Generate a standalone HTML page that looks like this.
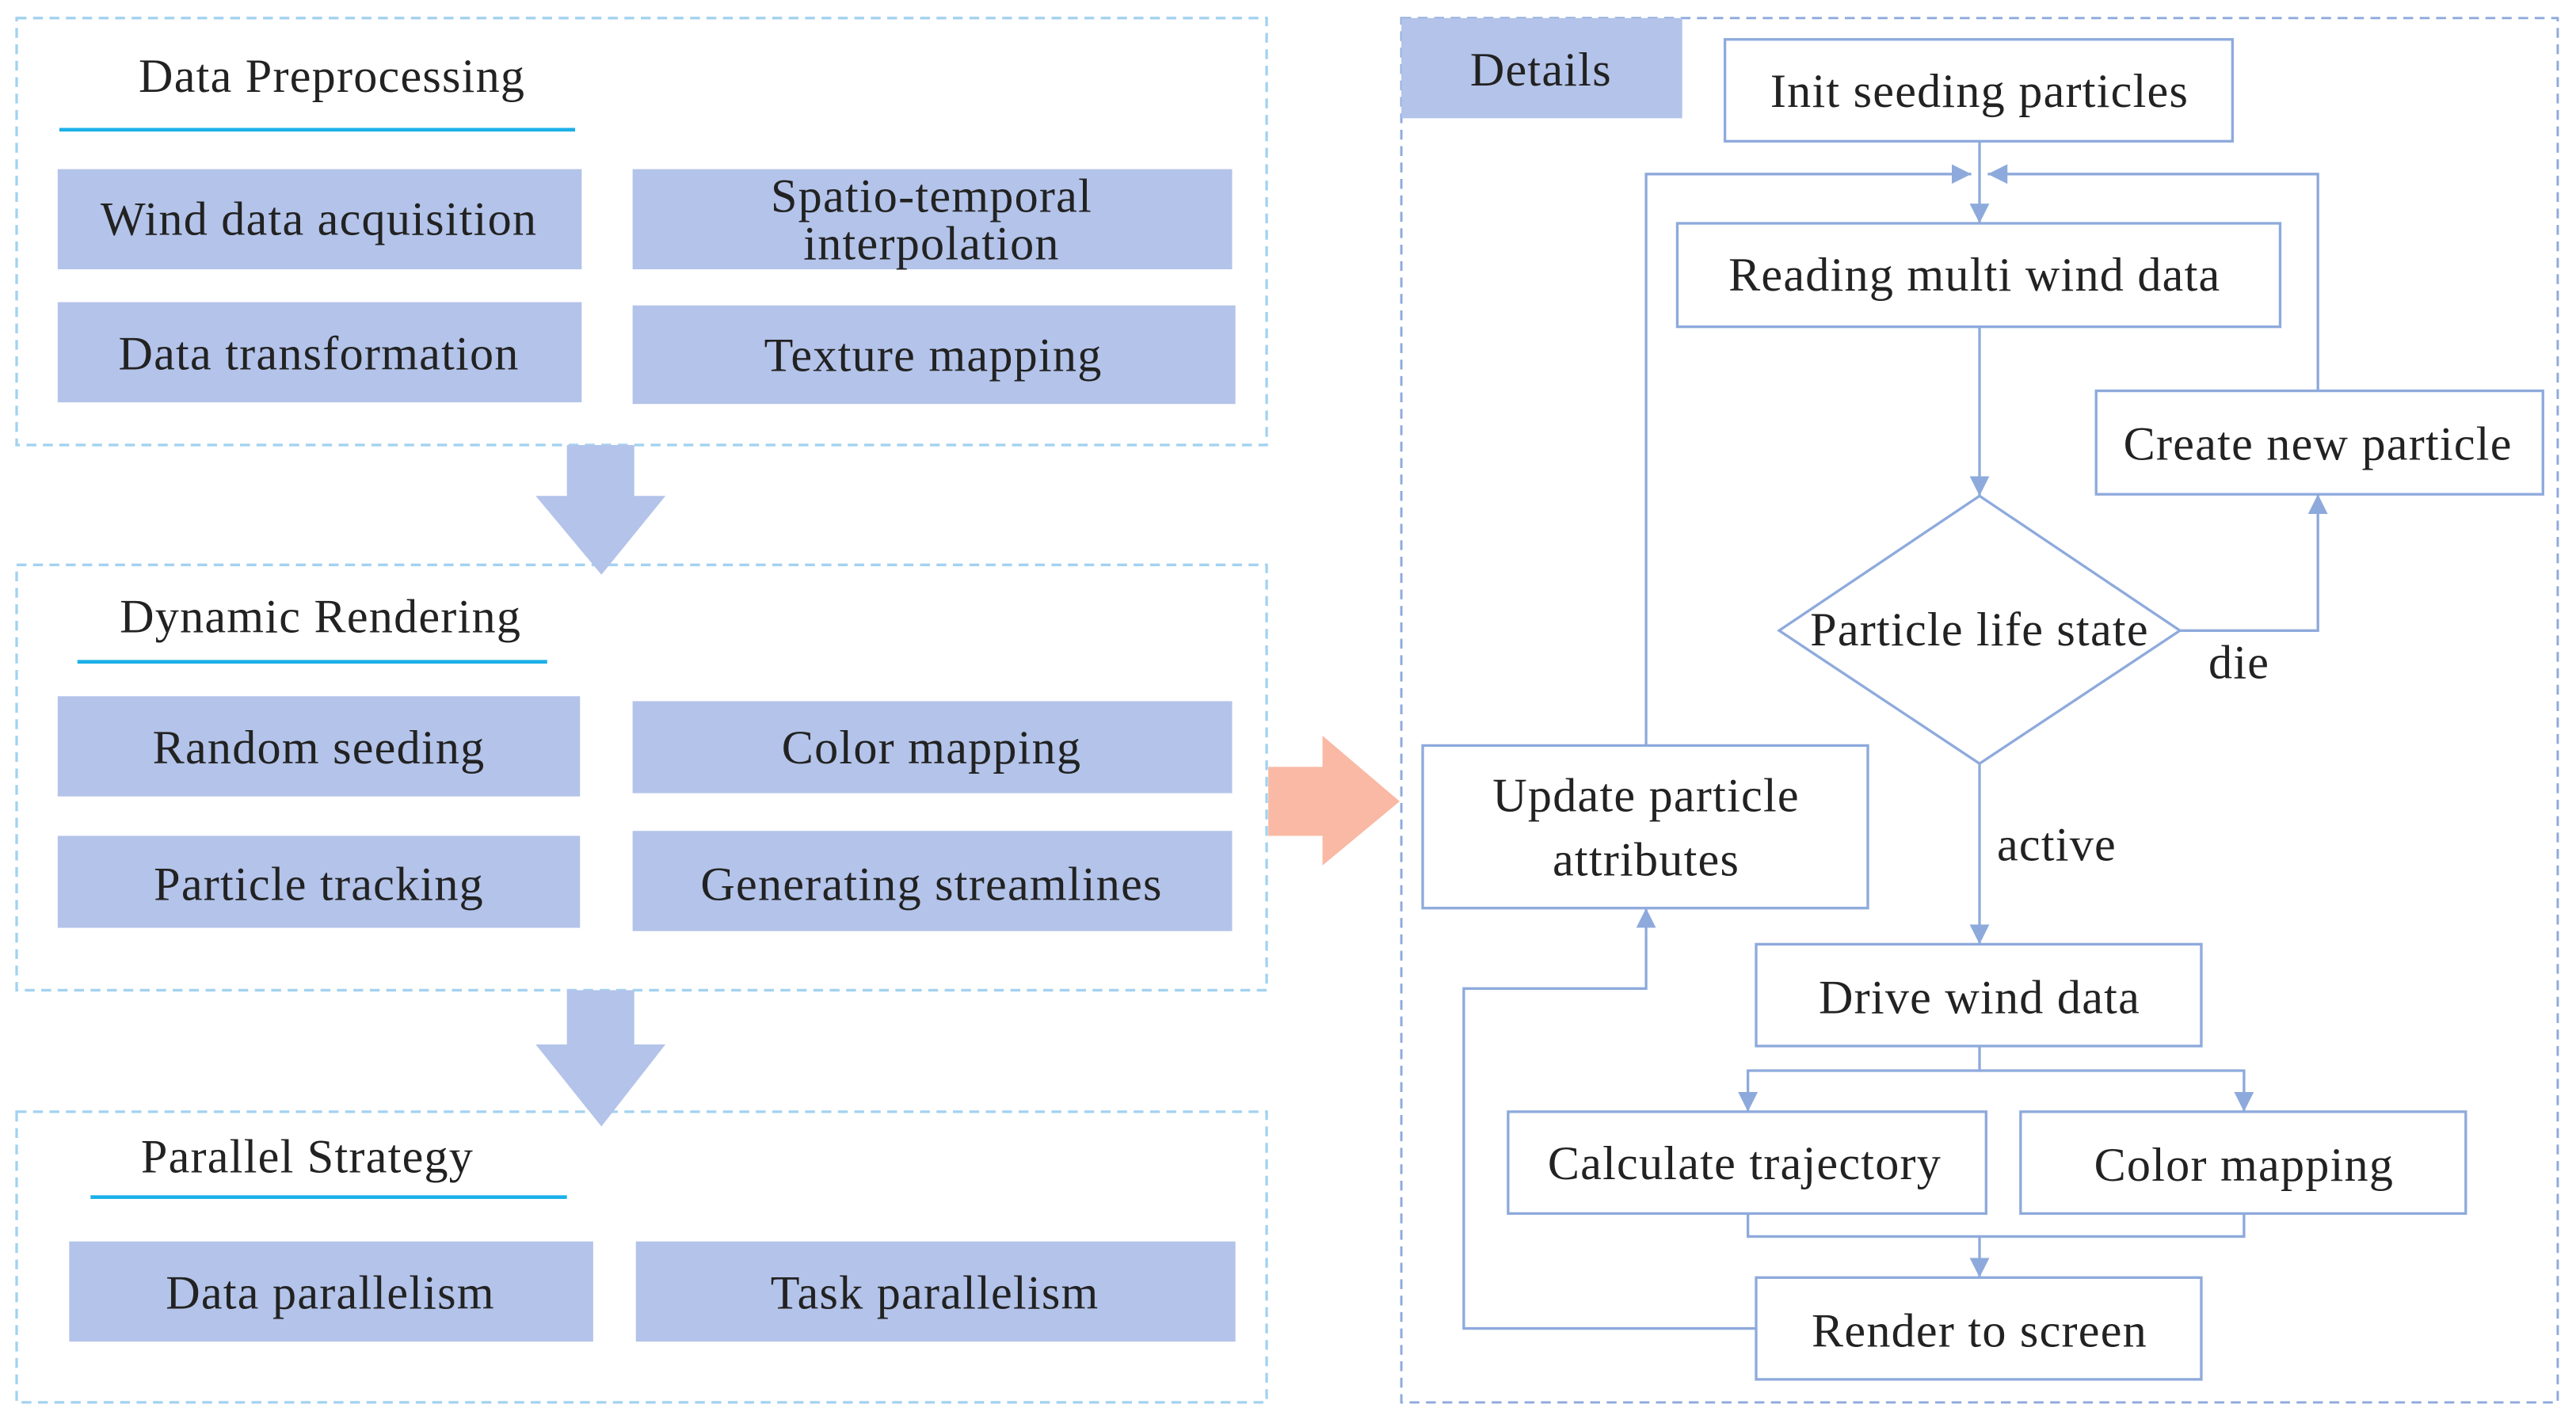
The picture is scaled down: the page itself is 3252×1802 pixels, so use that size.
<!DOCTYPE html>
<html><head><meta charset="utf-8"><style>html,body{margin:0;padding:0;background:#fff}svg{display:block}</style></head>
<body>
<svg width="3252" height="1802" viewBox="0 0 1568 869" xmlns="http://www.w3.org/2000/svg" font-family="Liberation Serif, serif" font-size="29" letter-spacing="0.6" fill="#222">
<defs>
<marker id="a" viewBox="0 0 10 10" refX="10" refY="5" markerWidth="12" markerHeight="12" markerUnits="userSpaceOnUse" orient="auto"><path d="M0,0 L10,5 L0,10 z" fill="#8eaadc"/></marker>
</defs>
<g fill="none" stroke="#a3d2f0" stroke-width="1.6" stroke-dasharray="6,4">
<rect x="10" y="11" width="761" height="260"/>
<rect x="10" y="344" width="761" height="259"/>
<rect x="10" y="677" width="761" height="177"/>
</g>
<rect x="853" y="11" width="704" height="843" fill="none" stroke="#8eaadc" stroke-width="1.4" stroke-dasharray="6,4"/>
<g stroke="#1cb0e8" stroke-width="2.2"><line x1="36" y1="79" x2="350" y2="79"/><line x1="47" y1="403" x2="333" y2="403"/><line x1="55" y1="729" x2="345" y2="729"/></g>
<g fill="#b3c3e9">
<rect x="35" y="103" width="319" height="61"/><rect x="385" y="103" width="365" height="61"/>
<rect x="35" y="184" width="319" height="61"/><rect x="385" y="186" width="367" height="60"/>
<rect x="35" y="424" width="318" height="61"/><rect x="385" y="427" width="365" height="56"/>
<rect x="35" y="509" width="318" height="56"/><rect x="385" y="506" width="365" height="61"/>
<rect x="42" y="756" width="319" height="61"/><rect x="387" y="756" width="365" height="61"/>
<rect x="853" y="11" width="171" height="61"/>
<path d="M345,271 H386 V302 H405 L366,350 L326,302 H345 Z"/>
<path d="M345,603 H386 V636 H405 L366,686 L326,636 H345 Z"/>
</g>
<path d="M772,467 H805 V448 L852,488 L805,527 V509 H772 Z" fill="#f9b9a5"/>
<g text-anchor="middle">
<text x="202" y="56">Data Preprocessing</text>
<text x="195" y="385">Dynamic Rendering</text>
<text x="187" y="714">Parallel Strategy</text>
<text x="194" y="143">Wind data acquisition</text>
<text x="567" y="129">Spatio-temporal</text><text x="567" y="158">interpolation</text>
<text x="194" y="225">Data transformation</text>
<text x="568" y="226">Texture mapping</text>
<text x="194" y="465">Random seeding</text>
<text x="567" y="465">Color mapping</text>
<text x="194" y="548">Particle tracking</text>
<text x="567" y="548">Generating streamlines</text>
<text x="201" y="797">Data parallelism</text>
<text x="569" y="797">Task parallelism</text>
<text x="938" y="52">Details</text>
</g>
<g fill="#fff" stroke="#8eaadc" stroke-width="1.6">
<rect x="1050" y="24" width="309" height="62"/>
<rect x="1021" y="136" width="367" height="63"/>
<rect x="1276" y="238" width="272" height="63"/>
<path d="M1205,302 L1327,384 L1205,465 L1083,384 Z"/>
<rect x="866" y="454" width="271" height="99"/>
<rect x="1069" y="575" width="271" height="62"/>
<rect x="918" y="677" width="291" height="62"/>
<rect x="1230" y="677" width="271" height="62"/>
<rect x="1069" y="778" width="271" height="62"/>
</g>
<g fill="none" stroke="#8eaadc" stroke-width="1.6">
<line x1="1205" y1="86" x2="1205" y2="136" marker-end="url(#a)"/>
<polyline points="1002,454 1002,106 1200,106" marker-end="url(#a)"/>
<polyline points="1411,238 1411,106 1210,106" marker-end="url(#a)"/>
<line x1="1205" y1="199" x2="1205" y2="302" marker-end="url(#a)"/>
<polyline points="1327,384 1411,384 1411,301" marker-end="url(#a)"/>
<line x1="1205" y1="465" x2="1205" y2="575" marker-end="url(#a)"/>
<polyline points="1205,637 1205,652 1064,652 1064,677" marker-end="url(#a)"/>
<polyline points="1205,652 1366,652 1366,677" marker-end="url(#a)"/>
<polyline points="1064,739 1064,753 1366,753 1366,739"/>
<line x1="1205" y1="753" x2="1205" y2="778" marker-end="url(#a)"/>
<polyline points="1069,809 891,809 891,602 1002,602 1002,553" marker-end="url(#a)"/>
</g>
<g text-anchor="middle">
<text x="1205" y="65">Init seeding particles</text>
<text x="1202" y="177">Reading multi wind data</text>
<text x="1411" y="280">Create new particle</text>
<text x="1205" y="393">Particle life state</text>
<text x="1363" y="413">die</text>
<text x="1002" y="494">Update particle</text>
<text x="1002" y="533">attributes</text>
<text x="1252" y="524">active</text>
<text x="1205" y="617">Drive wind data</text>
<text x="1062" y="718">Calculate trajectory</text>
<text x="1366" y="719">Color mapping</text>
<text x="1205" y="820">Render to screen</text>
</g>
</svg>
</body></html>
